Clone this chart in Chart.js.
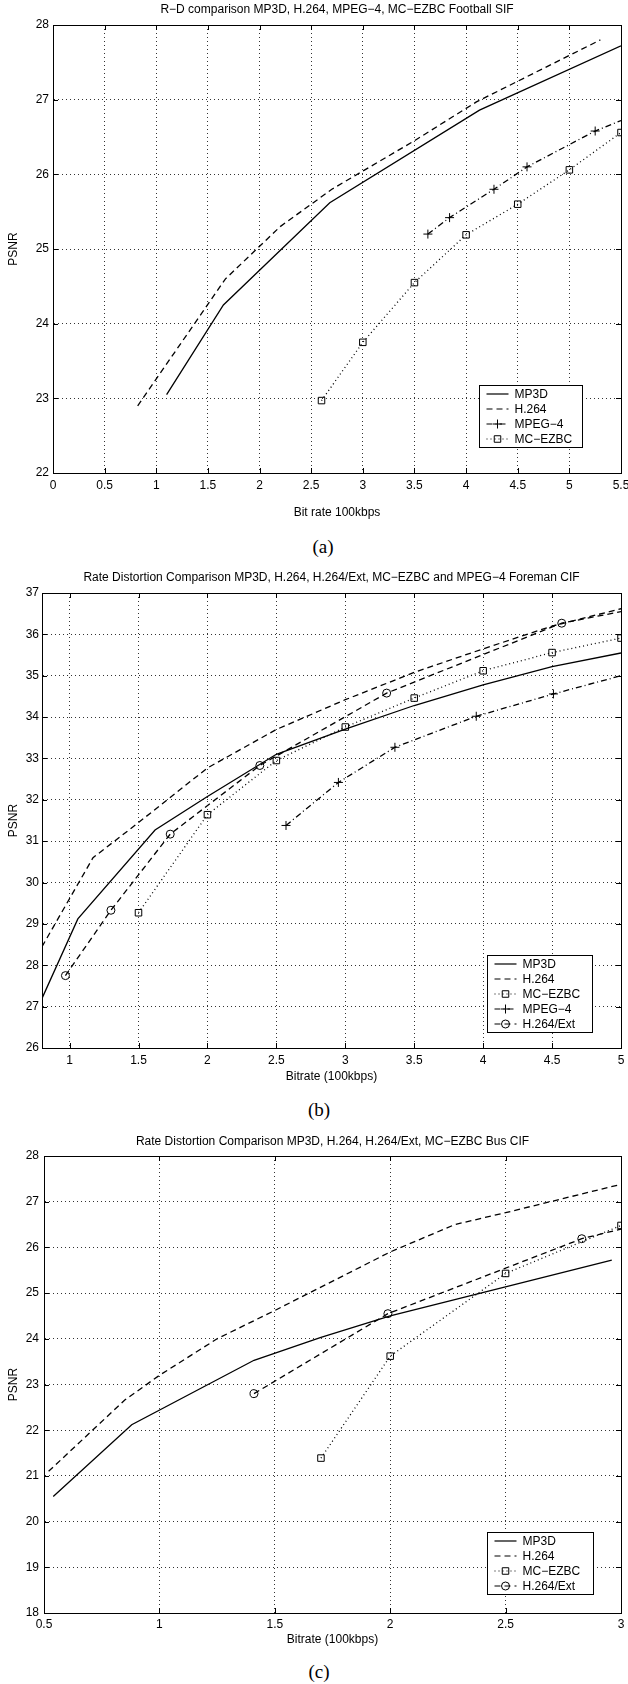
<!DOCTYPE html>
<html>
<head>
<meta charset="utf-8">
<script src="https://cdn.jsdelivr.net/npm/chart.js"></script>
<style>
  body { margin: 0; background: #fff; width: 628px; height: 1684px; position: relative; overflow: hidden; }
  .plot { position: absolute; left: 0; }
  .cap { position: absolute; left: 0; width: 628px; text-align: center;
         font: 19px/22px "Liberation Serif", "Times New Roman", serif; color: #000; }
</style>
</head>
<body>
<canvas class="plot" id="chartA" width="628" height="530" style="top:0px"></canvas>
<div class="cap" style="top:536px;padding-left:18px;box-sizing:border-box">(a)</div>
<canvas class="plot" id="chartB" width="628" height="530" style="top:560px"></canvas>
<div class="cap" style="top:1099px;padding-left:10px;box-sizing:border-box">(b)</div>
<canvas class="plot" id="chartC" width="628" height="530" style="top:1125px"></canvas>
<div class="cap" style="top:1661px;padding-left:10px;box-sizing:border-box">(c)</div>
<script>
// (a) Football SIF
const aMp3dX = [1.1, 1.65, 2.68, 4.13, 5.5];
const aMp3dY = [23.05, 24.25, 25.62, 26.86, 27.72];
const aH264X = [0.82, 1.67, 2.2, 2.7, 3.5, 4.1, 5.3];
const aH264Y = [22.9, 24.6, 25.3, 25.8, 26.45, 26.97, 27.8];
const aMpeg4X = [3.63, 3.84, 4.27, 4.59, 5.25, 5.5];
const aMpeg4Y = [25.2, 25.42, 25.8, 26.1, 26.58, 26.72];
const aEzbcX = [2.6, 3, 3.5, 4, 4.5, 5, 5.5];
const aEzbcY = [22.97, 23.75, 24.55, 25.19, 25.6, 26.06, 26.56];

// (b) Foreman CIF
const bMp3dX = [0.8, 1.06, 1.62, 2.0, 2.5, 3.0, 3.5, 4.0, 4.5, 5.0];
const bMp3dY = [27.2, 29.12, 31.27, 32.08, 33.1, 33.71, 34.28, 34.78, 35.22, 35.55];
const bH264X = [0.8, 1.17, 1.5, 2.0, 2.5, 3.0, 3.5, 4.0, 4.5, 5.0];
const bH264Y = [28.45, 30.6, 31.45, 32.77, 33.7, 34.42, 35.08, 35.65, 36.2, 36.62];
const bEzbcX = [1.5, 2, 2.5, 3, 3.5, 4, 4.5, 5];
const bEzbcY = [29.27, 31.64, 32.95, 33.76, 34.46, 35.12, 35.56, 35.91];
const bMpeg4X = [2.57, 2.95, 3.36, 3.95, 4.51, 5.0];
const bMpeg4Y = [31.38, 32.42, 33.27, 34.02, 34.56, 35.0];
const bExtX = [0.97, 1.3, 1.73, 2.38, 3.3, 4.57, 5.0];
const bExtY = [27.75, 29.33, 31.17, 32.83, 34.58, 36.27, 36.55];

// (c) Bus CIF
const cMp3dX = [0.54, 0.88, 1.41, 1.7, 2.0, 2.96];
const cMp3dY = [20.55, 22.12, 23.53, 24.03, 24.5, 25.72];
const cH264X = [0.52, 0.85, 1.0, 1.25, 1.5, 2.0, 2.28, 2.5, 3.0];
const cH264Y = [21.1, 22.66, 23.2, 24.0, 24.62, 25.9, 26.5, 26.76, 27.38];
const cEzbcX = [1.7, 2.0, 2.5, 3.0];
const cEzbcY = [21.39, 23.62, 25.43, 26.48];
const cExtX = [1.41, 1.99, 2.83, 3.0];
const cExtY = [22.8, 24.55, 26.19, 26.4];

Chart.defaults.font.family = '"Liberation Sans", Arial, Helvetica, sans-serif';
Chart.defaults.font.size = 12;
Chart.defaults.color = "#000";

const pts = (xs, ys) => xs.map((x, i) => ({ x: x, y: ys[i] }));

// line looks; the last point of a series may only carry the line to the axis edge
const styles = {
  mp3d: { borderDash: [], pointStyle: false, r: 0 },
  h264: { borderDash: [6, 4], pointStyle: false, r: 0 },
  mpeg4: { borderDash: [6, 3, 1, 3], pointStyle: "cross", r: 4.5 },
  ezbc: { borderDash: [1, 3], pointStyle: "rect", r: 4.6 },
  ext: { borderDash: [6, 4], pointStyle: "circle", r: 4 },
};

function series(label, kind, xs, ys, tail) {
  const s = styles[kind];
  return {
    label: label,
    data: pts(xs, ys),
    borderColor: "#000",
    backgroundColor: "rgba(0,0,0,0)",
    borderWidth: 1.3,
    borderDash: s.borderDash,
    pointStyle: s.pointStyle || "circle",
    markerRadius: s.r,
    legendStyle: s.pointStyle,
    pointRadius: xs.map((v, i) => (tail && i === xs.length - 1 ? 0 : s.r)),
    pointBorderWidth: 1,
    pointBorderColor: "#000",
    pointBackgroundColor: "rgba(0,0,0,0)",
    tension: 0,
  };
}

// box round the plot, with small inward ticks on all four sides
const frame = {
  id: "frame",
  afterDatasetsDraw(chart) {
    const { ctx, chartArea: a, scales } = chart;
    ctx.save();
    ctx.strokeStyle = "#000";
    ctx.lineWidth = 1;
    ctx.setLineDash([]);
    ctx.strokeRect(Math.round(a.left) + 0.5, Math.round(a.top) + 0.5,
      Math.round(a.right - a.left), Math.round(a.bottom - a.top));
    ctx.beginPath();
    scales.x.ticks.forEach((t) => {
      const p = Math.round(scales.x.getPixelForValue(t.value)) + 0.5;
      ctx.moveTo(p, a.bottom); ctx.lineTo(p, a.bottom - 5);
      ctx.moveTo(p, a.top); ctx.lineTo(p, a.top + 5);
    });
    scales.y.ticks.forEach((t) => {
      const p = Math.round(scales.y.getPixelForValue(t.value)) + 0.5;
      ctx.moveTo(a.left, p); ctx.lineTo(a.left + 5, p);
      ctx.moveTo(a.right, p); ctx.lineTo(a.right - 5, p);
    });
    ctx.stroke();
    ctx.restore();
  },
};

// matlab style legend box inside the lower right corner
const boxLegend = {
  id: "boxLegend",
  afterDraw(chart, args, opts) {
    const { ctx, chartArea } = chart;
    const sets = chart.data.datasets;
    const rowH = 15;
    const w = opts.width;
    const h = sets.length * rowH + 2;
    const x = Math.round(chartArea.right - opts.right - w) + 0.5;
    const y = Math.round(chartArea.bottom - opts.bottom - h) + 0.5;
    ctx.save();
    ctx.fillStyle = "#fff";
    ctx.fillRect(x, y, w, h);
    ctx.strokeStyle = "#000";
    ctx.lineWidth = 1;
    ctx.setLineDash([]);
    ctx.strokeRect(x, y, w, h);
    ctx.font = '12px "Liberation Sans", Arial, sans-serif';
    ctx.textBaseline = "middle";
    sets.forEach((d, i) => {
      const cy = y + 8.5 + i * rowH;
      ctx.lineWidth = 1.2;
      ctx.setLineDash(d.borderDash);
      ctx.beginPath();
      ctx.moveTo(x + 7, cy);
      ctx.lineTo(x + 29, cy);
      ctx.stroke();
      ctx.setLineDash([]);
      if (d.legendStyle) {
        ctx.fillStyle = "rgba(0,0,0,0)";
        ctx.lineWidth = 1;
        Chart.helpers.drawPoint(ctx, { pointStyle: d.legendStyle, radius: d.markerRadius, borderWidth: 1, rotation: 0 }, x + 18, cy);
      }
      ctx.fillStyle = "#000";
      ctx.fillText(d.label, x + 35, cy + 0.5);
    });
    ctx.restore();
  },
};

const plainNum = (v) => String(Math.round(v * 100) / 100);

function makeChart(id, cfg) {
  return new Chart(document.getElementById(id), {
    type: "line",
    data: { datasets: cfg.datasets },
    plugins: [frame, boxLegend],
    options: {
      responsive: false,
      animation: false,
      layout: { padding: { left: 0, right: 7, top: 0, bottom: 0 } },
      plugins: {
        legend: { display: false },
        tooltip: { enabled: false },
        title: {
          display: true,
          text: cfg.title,
          fullSize: false,
          color: "#000",
          font: { size: 12, weight: "normal" },
          padding: { top: cfg.titlePad[0], bottom: cfg.titlePad[1] },
        },
        boxLegend: cfg.legend,
      },
      scales: {
        x: {
          type: "linear",
          min: cfg.xRange[0],
          max: cfg.xRange[1],
          afterFit: (s) => { s.height = cfg.xAxisH; s.paddingLeft = 0; s.paddingRight = 0; },
          ticks: { stepSize: 0.5, includeBounds: false, padding: cfg.xTickPad, maxRotation: 0, autoSkip: false, callback: plainNum },
          grid: { color: "#333", lineWidth: 1, drawTicks: false },
          border: { color: "#000", dash: [1, 3] },
          title: {
            display: true,
            text: cfg.xTitle,
            font: { size: 12 },
            padding: { top: 0, bottom: cfg.xTitlePad },
          },
        },
        y: {
          type: "linear",
          min: cfg.yRange[0],
          max: cfg.yRange[1],
          afterFit: (s) => { s.width = cfg.yAxisW; s.paddingTop = 0; s.paddingBottom = 0; },
          ticks: { stepSize: 1, padding: cfg.yTickPad, callback: plainNum },
          grid: { color: "#333", lineWidth: 1, drawTicks: false },
          border: { color: "#000", dash: [1, 3] },
          title: {
            display: true,
            text: "PSNR",
            font: { size: 12 },
            padding: { top: 6, bottom: 0 },
          },
        },
      },
    },
  });
}

makeChart("chartA", {
  title: "R\u2212D comparison MP3D, H.264, MPEG\u22124, MC\u2212EZBC Football SIF",
  titlePad: [2.3, 8.3],
  xRange: [0, 5.5],
  yRange: [22, 28],
  xTitle: "Bit rate 100kbps",
  xAxisH: 57, xTickPad: 5, xTitlePad: 9.8,
  yAxisW: 53, yTickPad: 4,
  legend: { width: 103, right: 39, bottom: 26 },
  datasets: [
    series("MP3D", "mp3d", aMp3dX, aMp3dY),
    series("H.264", "h264", aH264X, aH264Y),
    series("MPEG\u22124", "mpeg4", aMpeg4X, aMpeg4Y, true),
    series("MC\u2212EZBC", "ezbc", aEzbcX, aEzbcY),
  ],
});

makeChart("chartB", {
  title: "Rate Distortion Comparison MP3D, H.264, H.264/Ext, MC\u2212EZBC and MPEG\u22124 Foreman CIF",
  titlePad: [10.8, 7.8],
  xRange: [0.8, 5],
  yRange: [26, 37],
  xTitle: "Bitrate (100kbps)",
  xAxisH: 42, xTickPad: 5.8, xTitlePad: 5.8,
  yAxisW: 42, yTickPad: 3,
  legend: { width: 105, right: 29, bottom: 16 },
  datasets: [
    series("MP3D", "mp3d", bMp3dX, bMp3dY),
    series("H.264", "h264", bH264X, bH264Y),
    series("MC\u2212EZBC", "ezbc", bEzbcX, bEzbcY),
    series("MPEG\u22124", "mpeg4", bMpeg4X, bMpeg4Y, true),
    series("H.264/Ext", "ext", bExtX, bExtY, true),
  ],
});

makeChart("chartC", {
  title: "Rate Distortion Comparison MP3D, H.264, H.264/Ext, MC\u2212EZBC Bus CIF",
  titlePad: [9.8, 6.8],
  xRange: [0.5, 3],
  yRange: [18, 28],
  xTitle: "Bitrate (100kbps)",
  xAxisH: 42, xTickPad: 4.8, xTitlePad: 7.8,
  yAxisW: 44, yTickPad: 5,
  legend: { width: 106, right: 28, bottom: 19 },
  datasets: [
    series("MP3D", "mp3d", cMp3dX, cMp3dY),
    series("H.264", "h264", cH264X, cH264Y),
    series("MC\u2212EZBC", "ezbc", cEzbcX, cEzbcY),
    series("H.264/Ext", "ext", cExtX, cExtY, true),
  ],
});
</script>
</body>
</html>
